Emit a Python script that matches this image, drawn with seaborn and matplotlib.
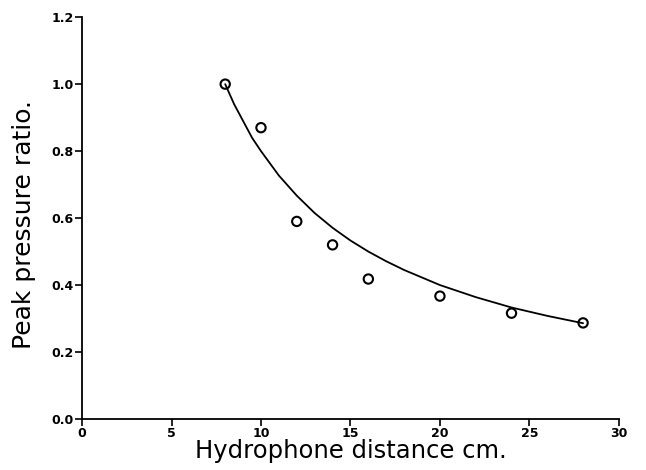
import matplotlib
matplotlib.use("Agg")
import matplotlib.pyplot as plt
import seaborn as sns
import pandas as pd

# measured points
distance_cm = [8, 10, 12, 14, 16, 20, 24, 28]
pressure_ratio = [1.0, 0.87, 0.59, 0.52, 0.418, 0.367, 0.316, 0.287]

# fitted curve
curve_x = [8, 8.5, 9, 9.5, 10, 11, 12, 13, 14, 15, 16, 17, 18, 20, 22, 24, 26, 28]
curve_y = [1.0, 0.94, 0.89, 0.84, 0.80, 0.727, 0.667, 0.615, 0.571, 0.533, 0.50,
           0.471, 0.445, 0.40, 0.364, 0.333, 0.308, 0.286]

x_ticks = [0, 5, 10, 15, 20, 25, 30]
y_ticks = [0.0, 0.2, 0.4, 0.6, 0.8, 1.0, 1.2]

sns.set_style("ticks")
plt.rcParams['font.family'] = ['DejaVu Sans']
plt.rcParams['text.color'] = 'black'
plt.rcParams['axes.labelcolor'] = 'black'
plt.rcParams['xtick.color'] = 'black'
plt.rcParams['ytick.color'] = 'black'

fig = plt.figure(figsize=(6.46, 4.70), dpi=100)
ax = fig.add_axes([0.127, 0.1085, 0.831, 0.855])

pts = pd.DataFrame({"x": distance_cm, "y": pressure_ratio})
crv = pd.DataFrame({"x": curve_x, "y": curve_y})

sns.lineplot(data=crv, x="x", y="y", ax=ax, color="black", linewidth=1.3, sort=True)
sns.scatterplot(data=pts, x="x", y="y", ax=ax, marker="o", s=45,
                facecolor="none", edgecolor="black", linewidth=1.5, zorder=3)

ax.set_xlim(0, 30)
ax.set_ylim(0, 1.2)
ax.set_xticks(x_ticks)
ax.set_yticks(y_ticks)
ax.set_xticklabels([str(t) for t in x_ticks], fontsize=9, fontweight="bold")
ax.set_yticklabels([f"{t:.1f}" for t in y_ticks], fontsize=9, fontweight="bold")
ax.tick_params(direction="out", length=5, width=1.2, color="black", pad=1)
ax.set_xlabel("Hydrophone distance cm.", fontsize=17.5)
ax.set_ylabel("Peak pressure ratio.", fontsize=18)
ax.xaxis.set_label_coords(0.5, -0.05)
ax.yaxis.set_label_coords(-0.086, 0.485)
for s in ["left", "bottom"]:
    ax.spines[s].set_linewidth(1.3)
    ax.spines[s].set_color("black")
sns.despine(ax=ax)

fig.savefig("out.png", dpi=100)
